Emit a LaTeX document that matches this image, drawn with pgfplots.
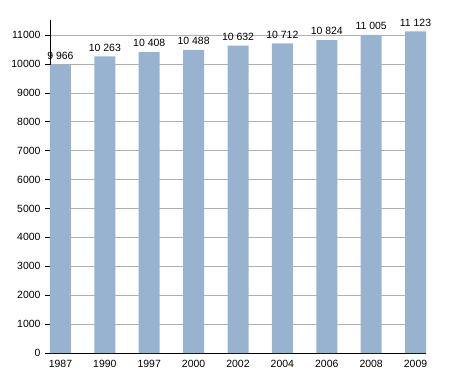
\documentclass[border=0pt]{standalone}
\usepackage{fontspec}
\setmainfont{Liberation Sans}
\usepackage{pgfplots}
\pgfplotsset{compat=1.18}
\definecolor{barblue}{HTML}{98B3CF}
\definecolor{gridgray}{HTML}{B0B0B0}
\begin{document}
\begin{tikzpicture}
\useasboundingbox (0,0) rectangle (455bp,373bp);
\begin{axis}[
  at={(50bp,20bp)}, anchor=south west,
  scale only axis, width=376bp, height=333bp,
  xmin=-0.236, xmax=8.236,
  ymin=0, ymax=11520,
  axis x line*=bottom, axis y line*=left,
  axis line style={black, line width=0.8pt, -},
  xtick={0,...,8},
  xticklabels={1987,1990,1997,2000,2002,2004,2006,2008,2009},
  x tick style={draw=none},
  ytick={0,1000,...,11000},
  y tick style={black, line width=0.6pt},
  tick align=outside, major tick length=5bp,
  ymajorgrids, grid style={gridgray, line width=0.6pt},
  scaled y ticks=false,
  /pgf/number format/assume math mode=true,
  yticklabel={\pgfmathprintnumber[1000 sep={}]{\tick}},
  tick label style={font=\fontsize{10.5}{12}\selectfont},
  yticklabel style={xshift=-1bp},
  xticklabel style={yshift=1bp},
  ybar, bar width=21bp,
  nodes near coords, point meta=explicit symbolic,
  nodes near coords style={font=\fontsize{10.5}{12}\selectfont, inner sep=2bp, yshift=3bp},
  clip=false,
]
\addplot[fill=barblue, draw=none] coordinates {
  (0,9966) [9 966]
  (1,10263) [10 263]
  (2,10408) [10 408]
  (3,10488) [10 488]
  (4,10632) [10 632]
  (5,10712) [10 712]
  (6,10824) [10 824]
  (7,11005) [11 005]
  (8,11123) [11 123]
};
\end{axis}
\end{tikzpicture}
\end{document}
